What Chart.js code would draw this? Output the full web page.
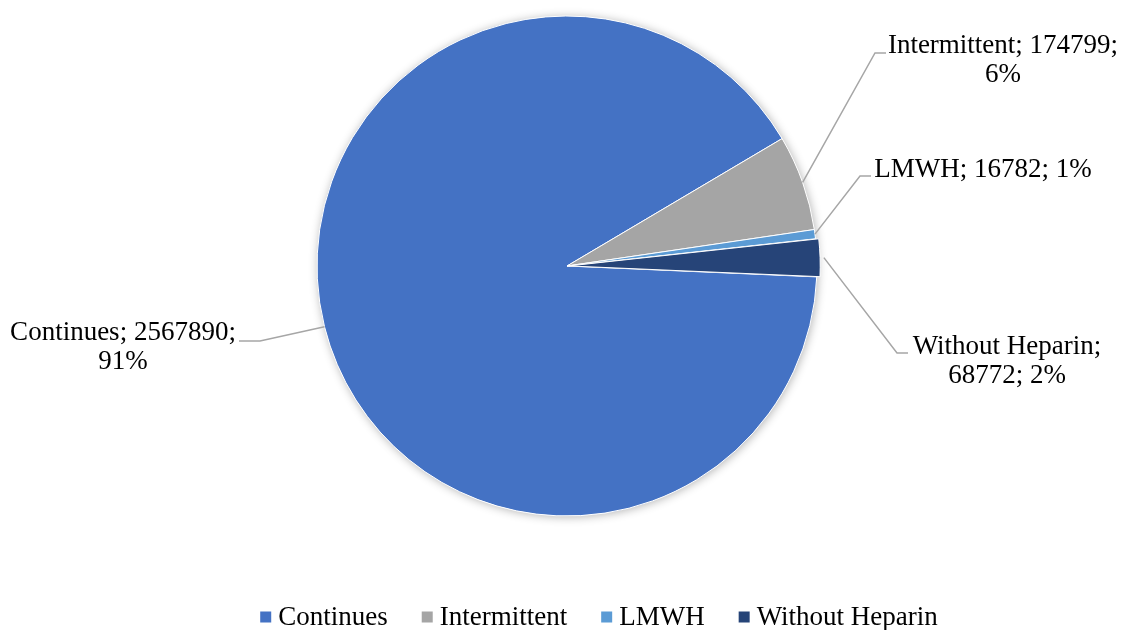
<!DOCTYPE html>
<html>
<head>
<meta charset="utf-8">
<script src="https://cdn.jsdelivr.net/npm/chart.js@4.4.0/dist/chart.umd.min.js"></script>
<style>
  html, body { margin: 0; padding: 0; background: #fff; }
  #wrap { width: 1121px; height: 630px; position: relative; }
</style>
</head>
<body>
<div id="wrap"><canvas id="pie_chart" width="1121" height="630"></canvas></div>
<script>
const categories = ['Continues', 'Intermittent', 'LMWH', 'Without Heparin'];
const values = [2567890, 174799, 16782, 68772];
const percentLabels = ['91%', '6%', '1%', '2%'];
const colors = ['#4472C4', '#A5A5A5', '#5B9BD5', '#264478'];

const FONT = '27px "Liberation Serif", "Times New Roman", serif';

// where each data label sits: elbow of the leader line, text centre and lines
const labelSpots = [
    { elbow: [260, 341], end: [239, 341], cx: 123, lines: [[categories[0] + '; ' + values[0] + ';', 333], [percentLabels[0], 362]] },
    { elbow: [875, 53], end: [886, 53], cx: 1003, lines: [[categories[1] + '; ' + values[1] + ';', 46], [percentLabels[1], 75]] },
    { elbow: [860, 176], end: [871, 176], cx: 983, lines: [[categories[2] + '; ' + values[2] + '; ' + percentLabels[2], 170]] },
    { elbow: [897, 353], end: [908, 353], cx: 1007, lines: [[categories[3] + ';', 347], [values[3] + '; ' + percentLabels[3], 376]] }
];

const pieShadow = {
    id: 'pieShadow',
    beforeDatasetsDraw(chart) {
        const arc = chart.getDatasetMeta(0).data[0];
        if (!arc) return;
        const ctx = chart.ctx;
        ctx.save();
        ctx.shadowColor = 'rgba(0,0,0,0.30)';
        ctx.shadowBlur = 10;
        ctx.shadowOffsetX = 1;
        ctx.shadowOffsetY = 1;
        ctx.fillStyle = '#fff';
        ctx.beginPath();
        ctx.arc(arc.x, arc.y, arc.outerRadius, 0, Math.PI * 2);
        ctx.fill();
        ctx.restore();
    }
};

const pieLabels = {
    id: 'pieLabels',
    afterDatasetsDraw(chart) {
        const ctx = chart.ctx;
        const arcs = chart.getDatasetMeta(0).data;
        ctx.save();
        arcs.forEach((arc, i) => {
            const spot = labelSpots[i];
            const mid = (arc.startAngle + arc.endAngle) / 2;
            const r = arc.outerRadius + (arc.options.offset || 0);
            const ax = arc.x + Math.cos(mid) * r;
            const ay = arc.y + Math.sin(mid) * r;
            ctx.strokeStyle = '#A6A6A6';
            ctx.lineWidth = 1.5;
            ctx.beginPath();
            ctx.moveTo(ax, ay);
            ctx.lineTo(spot.elbow[0], spot.elbow[1]);
            ctx.lineTo(spot.end[0], spot.end[1]);
            ctx.stroke();
            ctx.fillStyle = '#000';
            ctx.font = FONT;
            ctx.textAlign = 'center';
            ctx.textBaseline = 'middle';
            spot.lines.forEach(l => ctx.fillText(l[0], spot.cx, l[1]));
        });
        ctx.restore();
    }
};

const bottomLegend = {
    id: 'bottomLegend',
    afterDraw(chart) {
        const ctx = chart.ctx;
        ctx.save();
        ctx.font = FONT;
        ctx.textBaseline = 'middle';
        ctx.textAlign = 'left';
        const box = 11, gap = 7, itemGap = 34, y = 617;
        let total = 0;
        const widths = categories.map(c => ctx.measureText(c).width);
        widths.forEach(w => total += box + gap + w);
        total += itemGap * (categories.length - 1);
        let x = 599 - total / 2;
        categories.forEach((c, i) => {
            ctx.fillStyle = colors[i];
            ctx.fillRect(x, y - box / 2, box, box);
            ctx.fillStyle = '#000';
            ctx.fillText(c, x + box + gap, y + 1);
            x += box + gap + widths[i] + itemGap;
        });
        ctx.restore();
    }
};

new Chart(document.getElementById('pie_chart'), {
    type: 'pie',
    data: {
        labels: categories,
        datasets: [{
            data: values,
            backgroundColor: colors,
            borderColor: '#ffffff',
            borderWidth: 1,
            offset: [0, 0, 0, 7]
        }]
    },
    options: {
        responsive: false,
        animation: false,
        rotation: 92.5,
        radius: 250,
        layout: { padding: { left: 13, right: 0, top: 0, bottom: 98 } },
        plugins: {
            legend: { display: false },
            tooltip: { enabled: false }
        }
    },
    plugins: [pieShadow, pieLabels, bottomLegend]
});
</script>
</body>
</html>
